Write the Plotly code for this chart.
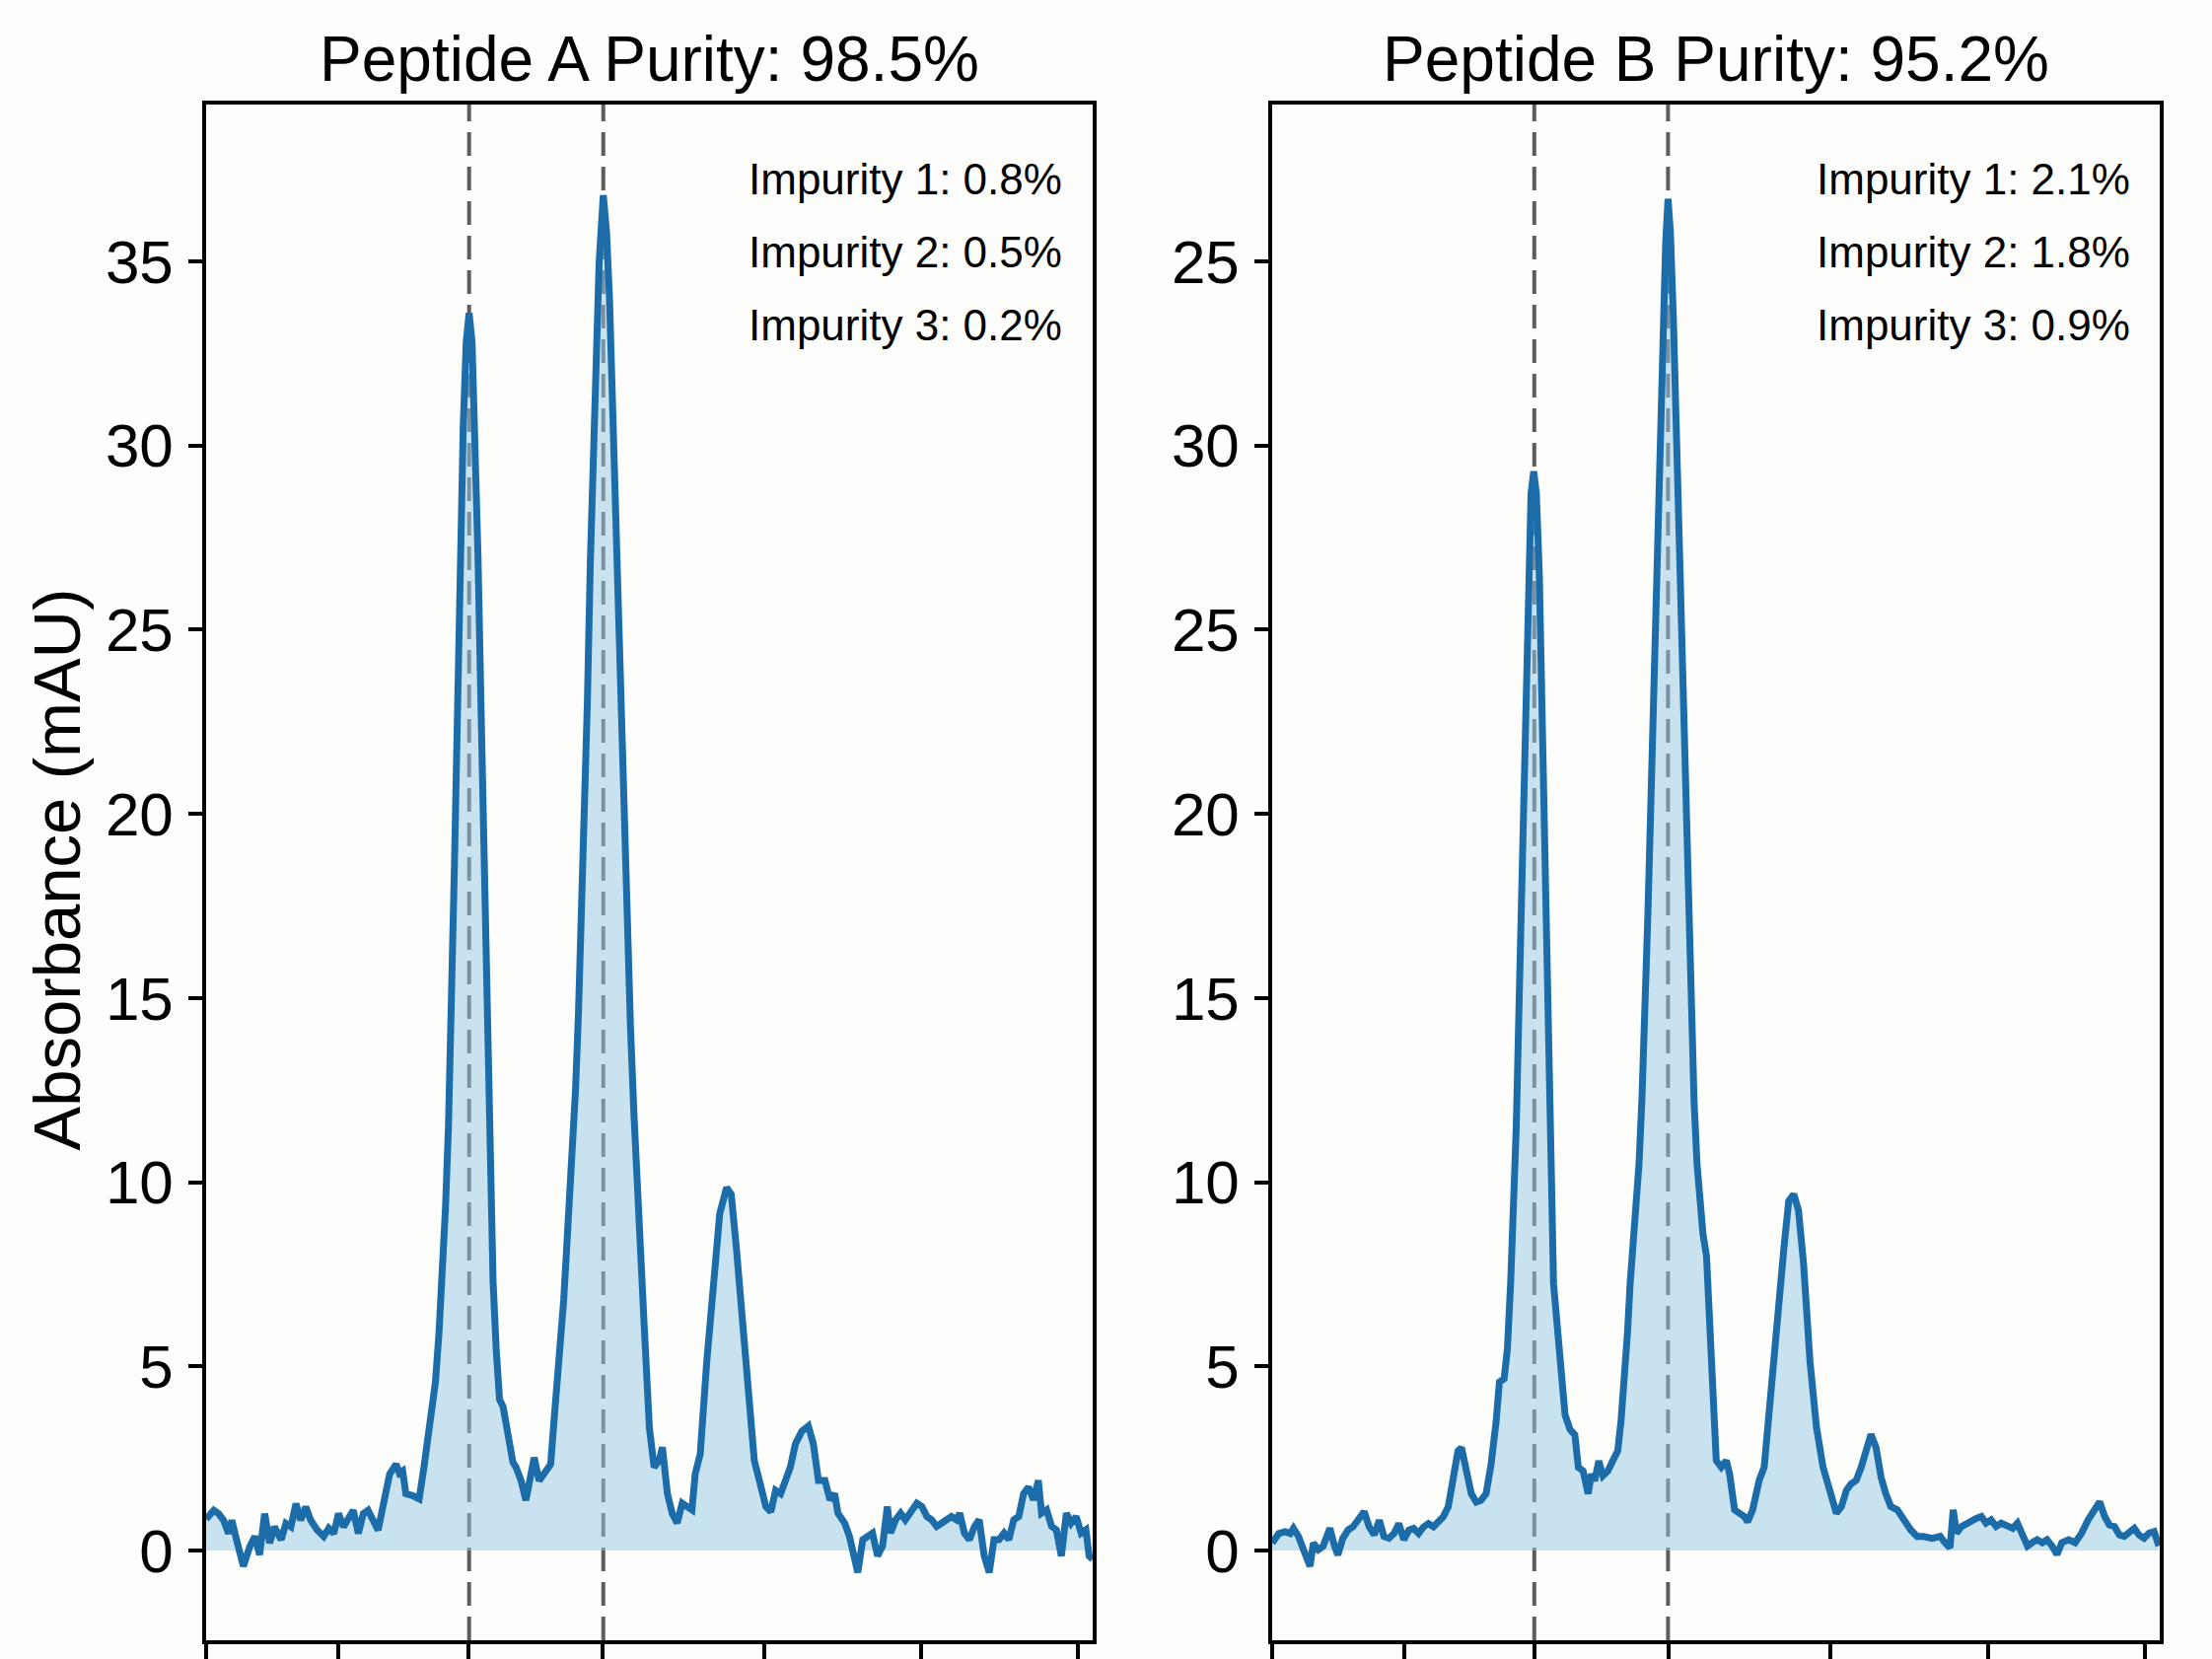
import plotly.graph_objects as go

# ---------------- data ----------------
time_a = [0.0, 0.26, 0.42, 0.59, 0.76, 0.87, 1.03, 1.26, 1.48, 1.65, 1.81, 1.98, 2.15, 2.31, 2.54, 2.70,
          2.87, 3.04, 3.20, 3.37, 3.54, 3.76, 3.98, 4.15, 4.32, 4.48, 4.65, 4.82, 4.98, 5.15, 5.32, 5.48,
          5.65, 5.82, 5.98, 6.21, 6.43, 6.54, 6.65, 6.76, 6.99, 7.21, 7.37, 7.49, 7.65, 7.76, 7.88, 8.0,
          8.1, 8.2, 8.3, 8.4, 8.5, 8.6, 8.7, 8.8, 8.9, 9.0, 9.1, 9.2, 9.3, 9.4, 9.5, 9.6, 9.71, 9.82,
          9.93, 10.05, 10.15, 10.25, 10.38, 10.49, 10.66, 10.82, 10.93, 11.1, 11.27, 11.43, 11.66, 11.77,
          11.94, 12.1, 12.2, 12.3, 12.4, 12.5, 12.6, 12.7, 12.8, 12.9, 13.0, 13.1, 13.2, 13.3, 13.44,
          13.55, 13.65, 13.75, 13.88, 14.0, 14.12, 14.24, 14.36, 14.48, 14.6, 14.71, 14.83, 15.0, 15.16,
          15.33, 15.44, 15.61, 15.77, 15.94, 16.11, 16.27, 16.44, 16.55, 16.72, 16.94, 17.16, 17.38,
          17.61, 17.77, 17.94, 18.16, 18.38, 18.55, 18.72, 18.94, 19.11, 19.27, 19.44, 19.61, 19.77,
          19.94, 20.16, 20.38, 20.55, 20.72, 20.94, 21.11, 21.27, 21.38, 21.61, 21.77, 21.94, 22.05,
          22.22, 22.39, 22.55, 22.72, 22.89, 23.05, 23.16, 23.33, 23.5, 23.66, 23.83, 24.05, 24.22,
          24.39, 24.55, 24.72, 24.89, 25.05, 25.22, 25.39, 25.5, 25.66, 25.83, 26.0, 26.16, 26.33, 26.5,
          26.66, 26.83, 27.0, 27.16, 27.33, 27.5, 27.66, 27.83, 28.0, 28.16, 28.27, 28.44, 28.61, 28.77,
          28.94, 29.11, 29.27, 29.44, 29.61, 29.77, 29.88, 30.0]
abs_a = [0.85, 1.09, 1.0, 0.82, 0.46, 0.82, 0.29, -0.43, 0.11, 0.38, -0.12, 1.0, 0.2, 0.64, 0.29, 0.73,
         0.64, 1.27, 0.82, 1.18, 0.82, 0.55, 0.38, 0.6, 0.46, 1.0, 0.64, 0.91, 1.09, 0.46, 1.0, 1.09,
         0.82, 0.55, 1.18, 2.07, 2.34, 2.1, 2.16, 1.54, 1.49, 1.40, 2.25, 2.97, 3.68, 4.57, 5.91, 7.4,
         9.3, 11.5, 14.5, 18.5, 22.5, 27.0, 30.5, 32.8, 33.6, 32.8, 30.5, 27.0, 23.0, 19.0, 14.5, 10.5,
         7.3, 5.4, 4.1, 3.9, 3.4, 2.8, 2.4, 2.25, 1.89, 1.36, 1.89, 2.52, 1.89, 2.07, 2.34, 3.5,
         5.02, 6.8, 8.2, 9.5, 10.8, 12.5, 14.6, 17.2, 20.0, 23.0, 26.8, 29.8, 32.5, 35.0, 36.8,
         35.8, 34.0, 31.2, 27.0, 23.5, 20.0, 17.0, 14.2, 11.8, 9.6, 7.8, 6.0, 3.33, 2.26,
         2.44, 2.8, 1.54, 1.01, 0.74, 1.28, 1.19, 1.10, 2.08, 2.62, 5.12, 7.35, 9.14,
         9.85, 9.67, 8.24, 6.01, 3.78, 2.44, 1.9, 1.19, 1.05, 1.63, 1.54, 1.9, 2.26,
         2.89, 3.24, 3.38, 2.89, 1.9, 1.9, 1.37, 1.54, 1.01, 0.74, 0.38, -0.24, -0.6,
         0.29, 0.38, 0.47, -0.15, 0.12, 1.19, 0.47, 0.83, 1.01, 0.83, 1.01, 1.28, 1.19,
         0.92, 0.83, 0.65, 0.74, 0.83, 0.92, 0.83, 1.01, 0.47, 0.29, 0.65, 0.83, -0.15, -0.6,
         0.29, 0.29, 0.47, 0.29, 0.83, 0.92, 1.54, 1.72, 1.37, 1.9, 1.01, 1.1, 0.65, 0.56,
         -0.15, 1.01, 0.74, 0.92, 0.47, 0.56, -0.15, -0.24]

time_b = [0.0, 0.22, 0.44, 0.61, 0.72, 0.89, 1.06, 1.28, 1.39, 1.56, 1.72, 1.95, 2.11, 2.22, 2.39, 2.56,
          2.73, 2.89, 3.11, 3.28, 3.45, 3.62, 3.78, 3.95, 4.12, 4.28, 4.45, 4.62, 4.78, 4.95, 5.12, 5.28,
          5.45, 5.62, 5.78, 5.95, 6.12, 6.28, 6.4, 6.56, 6.73, 6.9, 7.06, 7.23, 7.4, 7.57, 7.68, 7.84,
          7.95, 8.06, 8.15, 8.25, 8.35, 8.45, 8.55, 8.65, 8.75, 8.84, 8.93, 9.03, 9.13, 9.23, 9.33, 9.43,
          9.51, 9.68, 9.9, 10.07, 10.23, 10.35, 10.51, 10.68, 10.79, 10.9, 11.04, 11.18, 11.35, 11.51,
          11.68, 11.79, 11.9, 12.01, 12.1, 12.2, 12.3, 12.4, 12.5, 12.6, 12.7, 12.8, 12.9, 13.0, 13.1,
          13.2, 13.3, 13.38, 13.46, 13.56, 13.66, 13.76, 13.86, 13.96, 14.06, 14.16, 14.26, 14.36, 14.46,
          14.56, 14.68, 14.77, 14.85, 14.93, 15.01, 15.18, 15.35, 15.46, 15.63, 15.79, 15.96, 16.07,
          16.24, 16.46, 16.63, 16.85, 17.07, 17.3, 17.46, 17.63, 17.79, 17.96, 18.18, 18.4, 18.62, 18.85,
          19.07, 19.24, 19.41, 19.57, 19.74, 19.91, 20.08, 20.24, 20.41, 20.58, 20.74, 20.91, 21.13,
          21.35, 21.58, 21.8, 22.02, 22.3, 22.58, 22.74, 22.91, 23.02, 23.13, 23.3, 23.47, 23.63, 23.8,
          23.97, 24.13, 24.3, 24.47, 24.64, 24.8, 25.03, 25.19, 25.36, 25.53, 25.69, 25.86, 26.03, 26.19,
          26.36, 26.53, 26.69, 26.92, 27.14, 27.36, 27.58, 27.8, 27.97, 28.14, 28.3, 28.47, 28.64, 28.8,
          28.97, 29.14, 29.3, 29.47, 29.64, 29.81, 29.97]
abs_b = [0.2, 0.46, 0.51, 0.46, 0.6, 0.38, 0.02, -0.43, 0.2, 0.02, 0.11, 0.6, 0.11, -0.12, 0.33, 0.55,
         0.64, 0.82, 1.05, 0.64, 0.42, 0.82, 0.38, 0.33, 0.46, 0.73, 0.29, 0.55, 0.6, 0.46, 0.64, 0.73,
         0.64, 0.78, 0.91, 1.18, 1.89, 2.7, 2.79, 2.25, 1.54, 1.31, 1.36, 1.54, 2.34, 3.5, 4.57, 4.66,
         5.47, 7.25, 9.0, 11.5, 15.0, 19.0, 23.0, 26.5, 28.7, 29.3, 28.7, 26.5, 23.0, 19.0, 14.5, 10.5,
         7.25, 5.47, 3.68, 3.28, 3.14, 2.25, 2.16, 1.54, 2.07, 1.89, 2.43, 2.03, 2.16, 2.43,
         2.7, 3.5, 4.57, 5.91, 7.25, 8.3, 9.4, 10.5, 12.3, 14.5, 17.3, 20.3, 23.5, 26.8, 30.0,
         33.0, 35.5, 36.7, 35.8, 33.5, 30.5, 27.0, 23.5, 20.3, 17.0, 14.5, 12.2, 10.5, 9.3,
         8.6, 8.0, 6.2, 4.67, 3.3, 2.44, 2.26, 2.44, 2.08, 1.1, 1.01, 0.92, 0.78,
         1.1, 1.9, 2.26, 4.22, 6.46, 8.24, 9.49, 9.67, 9.23, 7.8, 5.12, 3.33, 2.26, 1.54,
         1.01, 1.19, 1.63, 1.81, 1.9, 2.26, 2.8, 3.15, 2.8, 1.99, 1.54, 1.19, 1.1,
         0.83, 0.56, 0.38, 0.38, 0.33, 0.38, 0.21, 0.07, 1.1, 0.47, 0.65, 0.74, 0.83, 0.87,
         0.92, 0.74, 0.83, 0.65, 0.74, 0.69, 0.6, 0.74, 0.38, 0.12, 0.21, 0.29, 0.21, 0.29,
         0.12, -0.11, 0.21, 0.29, 0.21, 0.47, 0.83, 1.1, 1.32, 0.92, 0.69, 0.65, 0.42, 0.38,
         0.47, 0.6, 0.42, 0.33, 0.47, 0.51, 0.12]

y_tickvals = [0, 5, 10, 15, 20, 25, 30, 35]
y_ticktext_a = ["0", "5", "10", "15", "20", "25", "30", "35"]
y_ticktext_b = ["0", "5", "10", "15", "20", "25", "30", "25"]
x_tickvals = [0, 4.47, 8.88, 13.4, 18.88, 24.2, 29.5]
main_peaks_a = [8.9, 13.44]
main_peaks_b = [8.86, 13.38]
titles = ["Peptide A Purity: 98.5%", "Peptide B Purity: 95.2%"]
impurities_a = ["Impurity 1: 0.8%", "Impurity 2: 0.5%", "Impurity 3: 0.2%"]
impurities_b = ["Impurity 1: 2.1%", "Impurity 2: 1.8%", "Impurity 3: 0.9%"]

# ---------------- styling ----------------
W, H = 2243, 1682
FONT = "Liberation Sans, Arial, Helvetica, sans-serif"
LINE_COLOR = "#1b6ca8"
FILL_COLOR = "rgba(150,200,230,0.5)"
BG = "#fdfdfb"
T, B = 106, 19
PLOT_H = H - T - B
dom_a = [209 / W, 1108 / W]
dom_b = [1290 / W, 2190 / W]

fig = go.Figure()

panels = [
    ("x", "y", time_a, abs_a),
    ("x2", "y2", time_b, abs_b),
]
for xa, ya, t, a in panels:
    fig.add_trace(go.Scatter(x=t, y=[max(v, 0) for v in a], xaxis=xa, yaxis=ya,
                             mode="lines", line=dict(width=0, color=FILL_COLOR),
                             fill="tozeroy", fillcolor=FILL_COLOR,
                             hoverinfo="skip", showlegend=False))
    fig.add_trace(go.Scatter(x=t, y=a, xaxis=xa, yaxis=ya, mode="lines",
                             line=dict(color=LINE_COLOR, width=7),
                             showlegend=False))

axis_common = dict(showline=True, linecolor="black", linewidth=3.5, mirror=True,
                   showgrid=False, zeroline=False, ticks="outside", tickcolor="black",
                   tickwidth=3.5)

for xname, dom in [("xaxis", dom_a), ("xaxis2", dom_b)]:
    fig.layout[xname] = dict(axis_common, domain=dom, range=[0, 30.0],
                             tickvals=x_tickvals, ticklen=22, showticklabels=False,
                             anchor="y" if xname == "xaxis" else "y2")

fig.layout["yaxis"] = dict(axis_common, domain=[0, 1], range=[-2.44, 39.26], anchor="x",
                           tickvals=y_tickvals, ticktext=y_ticktext_a, ticklen=14,
                           tickfont=dict(size=62, color="black", family=FONT),
                           ticklabelstandoff=3)
fig.layout["yaxis2"] = dict(axis_common, domain=[0, 1], range=[-2.44, 39.26], anchor="x2",
                            tickvals=y_tickvals, ticktext=y_ticktext_b, ticklen=14,
                            tickfont=dict(size=62, color="black", family=FONT),
                            ticklabelstandoff=3)

# dashed marker lines at the main peaks
shapes = []
for xref, yref, peaks in [("x", "y domain", main_peaks_a), ("x2", "y2 domain", main_peaks_b)]:
    for p in peaks:
        shapes.append(dict(type="line", xref=xref, yref=yref, x0=p, x1=p, y0=0, y1=1,
                           line=dict(color="#5c5c5c", width=4, dash="24px,11px"),
                           layer="below"))

annotations = []
for title, dom in zip(titles, [dom_a, dom_b]):
    annotations.append(dict(text=title, xref="paper", yref="paper",
                            x=(dom[0] + dom[1]) / 2, y=1 + 46 / PLOT_H,
                            xanchor="center", yanchor="middle", showarrow=False,
                            font=dict(size=64, color="black", family=FONT)))

imp_y = [1663 - 182, 1663 - 256, 1663 - 329]
for texts, xr in [(impurities_a, 1079 / W), (impurities_b, 2162 / W)]:
    for txt, yy in zip(texts, imp_y):
        annotations.append(dict(text=txt, xref="paper", yref="paper", x=xr, y=yy / PLOT_H,
                                xanchor="right", yanchor="middle", showarrow=False,
                                font=dict(size=44, color="black", family=FONT)))

annotations.append(dict(text="Absorbance (mAU)", xref="paper", yref="paper",
                        x=57 / W, y=0.502, textangle=-90, xanchor="center", yanchor="middle",
                        showarrow=False, font=dict(size=67, color="black", family=FONT)))

fig.update_layout(width=W, height=H, margin=dict(l=0, r=0, t=T, b=B, autoexpand=False),
                  paper_bgcolor=BG, plot_bgcolor=BG, shapes=shapes, annotations=annotations,
                  font=dict(family=FONT, color="black"), showlegend=False)

fig.write_html("out.html")
